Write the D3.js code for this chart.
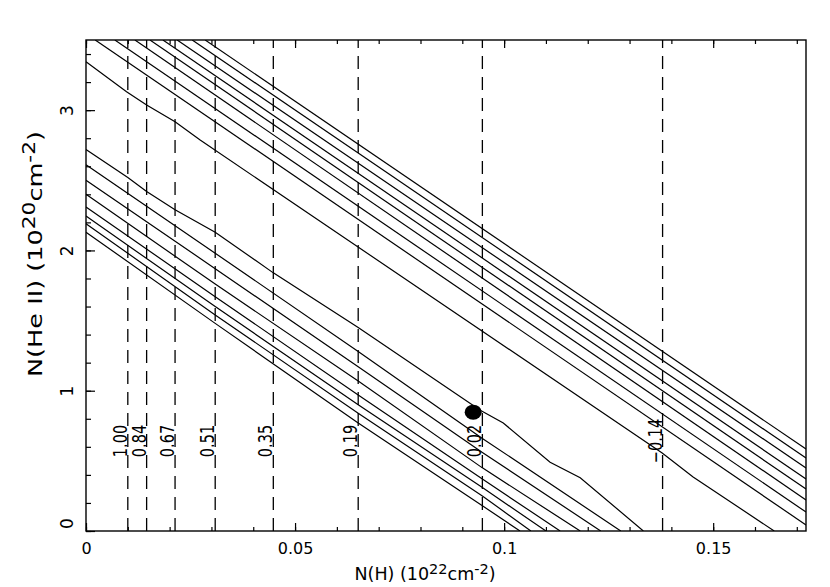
<!DOCTYPE html>
<html>
<head>
<meta charset="utf-8">
<script src="https://cdn.jsdelivr.net/npm/d3@7"></script>
<style>
body { margin: 0; background: #fff; }
text { font-family: "DejaVu Sans", sans-serif; fill: #000; }
</style>
</head>
<body>
<div id="chart"></div>
<script>
// dashed N(H) markers and their labels
const dashNH = [0.0100, 0.0145, 0.0213, 0.0309, 0.0448, 0.0651, 0.0948, 0.1379];
const dashLabels = ['1.00', '0.84', '0.67', '0.51', '0.35', '0.19', '0.02', '\u22120.14'];

// lower family of curves, [N(H), N(He II)]
const curveL1 = [[0, 2.72], [0.0100, 2.52], [0.0145, 2.42], [0.0213, 2.29], [0.0309, 2.13], [0.0448, 1.84], [0.0651, 1.45], [0.0943, 0.86], [0.0998, 0.77], [0.1110, 0.49], [0.1182, 0.38], [0.1333, 0]];
const curveL2 = [[0, 2.61], [0.0309, 1.98], [0.0651, 1.28], [0.0948, 0.66], [0.1279, 0]];
const curveL3 = [[0, 2.50], [0.0309, 1.87], [0.0651, 1.17], [0.0948, 0.56], [0.1231, 0]];
const curveL4 = [[0, 2.40], [0.0309, 1.76], [0.0651, 1.07], [0.0948, 0.45], [0.1182, 0]];
const curveL5 = [[0, 2.31], [0.0309, 1.67], [0.0651, 0.97], [0.0948, 0.37], [0.1134, 0]];
const curveL6 = [[0, 2.245], [0.0309, 1.60], [0.0651, 0.90], [0.0948, 0.31], [0.1100, 0]];
const curveL7 = [[0, 2.19], [0.0309, 1.54], [0.0651, 0.84], [0.0948, 0.25], [0.1064, 0]];
const curveL8 = [[0, 2.13], [0.0309, 1.48], [0.0651, 0.77], [0.0948, 0.18], [0.1038, 0]];

// upper family
const curveU1 = [[0.0285, 3.5], [0.1722, 0.584]];
const curveU2 = [[0.0254, 3.5], [0.1722, 0.520]];
const curveU3 = [[0.0218, 3.5], [0.1722, 0.449]];
const curveU4 = [[0.0184, 3.5], [0.1722, 0.371]];
const curveU5 = [[0.0153, 3.5], [0.1722, 0.299]];
const curveU6 = [[0.0117, 3.5], [0.1722, 0.221]];
const curveU7 = [[0.0069, 3.5], [0.1722, 0.135]];
const curveU8 = [[0.0022, 3.5], [0.1722, 0.043]];
const curveU9 = [[0, 3.345], [0.0097, 3.131], [0.0145, 3.036], [0.0213, 2.917], [0.0273, 2.787], [0.1378, 0.556], [0.1452, 0.385], [0.1646, 0]];

const curves = [curveL1, curveL2, curveL3, curveL4, curveL5, curveL6, curveL7, curveL8,
                curveU1, curveU2, curveU3, curveU4, curveU5, curveU6, curveU7, curveU8, curveU9];

const dot = [0.0926, 0.847];

const xMajor = [0, 0.05, 0.1, 0.15];
const xLabels = ['0', '0.05', '0.1', '0.15'];
const yMajor = [0, 1, 2, 3];

const width = 830, height = 587;
const mg = {top: 40, right: 24, bottom: 56, left: 86};

const x = d3.scaleLinear().domain([0, 0.1722]).range([mg.left, width - mg.right]);
const y = d3.scaleLinear().domain([0, 3.5]).range([height - mg.bottom, mg.top]);

const svg = d3.select('#chart').append('svg')
    .attr('width', width)
    .attr('height', height);

svg.append('defs').append('clipPath').attr('id', 'plotClip')
    .append('rect')
    .attr('x', x(0)).attr('y', y(3.5))
    .attr('width', x(0.1722) - x(0)).attr('height', y(0) - y(3.5));

const plot = svg.append('g').attr('clip-path', 'url(#plotClip)');

// dashed verticals
plot.selectAll('.dash').data(dashNH).enter().append('line')
    .attr('x1', d => x(d)).attr('x2', d => x(d))
    .attr('y1', y(0)).attr('y2', y(3.5))
    .attr('stroke', '#000')
    .attr('stroke-width', 1.3)
    .attr('stroke-dasharray', '13,8');

const line = d3.line().x(d => x(d[0])).y(d => y(d[1]));

plot.selectAll('.curve').data(curves).enter().append('path')
    .attr('d', line)
    .attr('fill', 'none')
    .attr('stroke', '#000')
    .attr('stroke-width', 1.2);

plot.append('ellipse')
    .attr('cx', x(dot[0])).attr('cy', y(dot[1]))
    .attr('rx', 8.5).attr('ry', 7.5)
    .attr('fill', '#000');

// labels beside the dashed lines (tall, narrow digits like the original)
svg.selectAll('.dlab').data(dashNH).enter().append('text')
    .attr('transform', d => 'translate(' + (x(d) - 1) + ',441) rotate(-90) scale(1,1.3)')
    .attr('text-anchor', 'middle')
    .attr('font-size', 14.5)
    .text((d, i) => dashLabels[i]);

// axes: minor + major ticks pointing inward
const xMinor = d3.range(0, 0.1721, 0.01);
const yMinor = d3.range(0, 3.5, 0.2);

svg.append('g').attr('transform', 'translate(0,' + y(0) + ')')
    .call(d3.axisBottom(x).tickValues(xMinor).tickSize(-4).tickFormat(''));
svg.append('g').attr('transform', 'translate(0,' + y(3.5) + ')')
    .call(d3.axisTop(x).tickValues(xMinor).tickSize(-4).tickFormat(''));
svg.append('g').attr('transform', 'translate(0,' + y(0) + ')')
    .call(d3.axisBottom(x).tickValues(xMajor).tickSize(-8).tickPadding(12)
        .tickFormat((d, i) => xLabels[i]))
    .call(g => g.selectAll('text').attr('font-size', 16).attr('font-family', 'DejaVu Sans'));
svg.append('g').attr('transform', 'translate(0,' + y(3.5) + ')')
    .call(d3.axisTop(x).tickValues(xMajor).tickSize(-8).tickFormat(''));

svg.append('g').attr('transform', 'translate(' + x(0) + ',0)')
    .call(d3.axisLeft(y).tickValues(yMinor).tickSize(-5).tickFormat(''));
svg.append('g').attr('transform', 'translate(' + x(0) + ',0)')
    .call(d3.axisLeft(y).tickValues(yMajor).tickSize(-9).tickFormat(d3.format('d')))
    .call(g => g.selectAll('text')
        .attr('x', null).attr('dy', null)
        .attr('text-anchor', 'middle')
        .attr('font-size', 17).attr('font-family', 'DejaVu Sans')
        .attr('transform', d => 'translate(-13,' + (d === 0 ? -8 : 0) + ') rotate(-90)'));

svg.selectAll('.domain').remove();
svg.selectAll('.tick line').attr('stroke', '#000').attr('stroke-width', 1.2);

// frame
svg.append('rect')
    .attr('x', x(0)).attr('y', y(3.5))
    .attr('width', x(0.1722) - x(0)).attr('height', y(0) - y(3.5))
    .attr('fill', 'none').attr('stroke', '#000').attr('stroke-width', 1.4);

// axis titles
const xt = svg.append('text')
    .attr('x', 425).attr('y', 580)
    .attr('text-anchor', 'middle')
    .attr('font-size', 17.5);
xt.append('tspan').text('N(H) (10');
xt.append('tspan').attr('baseline-shift', '40%').attr('font-size', 14.5).text('22');
xt.append('tspan').text('cm');
xt.append('tspan').attr('baseline-shift', '40%').attr('font-size', 14.5).text('-2');
xt.append('tspan').text(')');

const yt = svg.append('text')
    .attr('transform', 'translate(42,254) rotate(-90)')
    .attr('text-anchor', 'middle')
    .attr('textLength', 246)
    .attr('lengthAdjust', 'spacingAndGlyphs')
    .attr('font-size', 20);
yt.append('tspan').text('N(He II) (10');
yt.append('tspan').attr('baseline-shift', '40%').attr('font-size', 17).text('20');
yt.append('tspan').text('cm');
yt.append('tspan').attr('baseline-shift', '40%').attr('font-size', 17).text('-2');
yt.append('tspan').text(')');
</script>
</body>
</html>
